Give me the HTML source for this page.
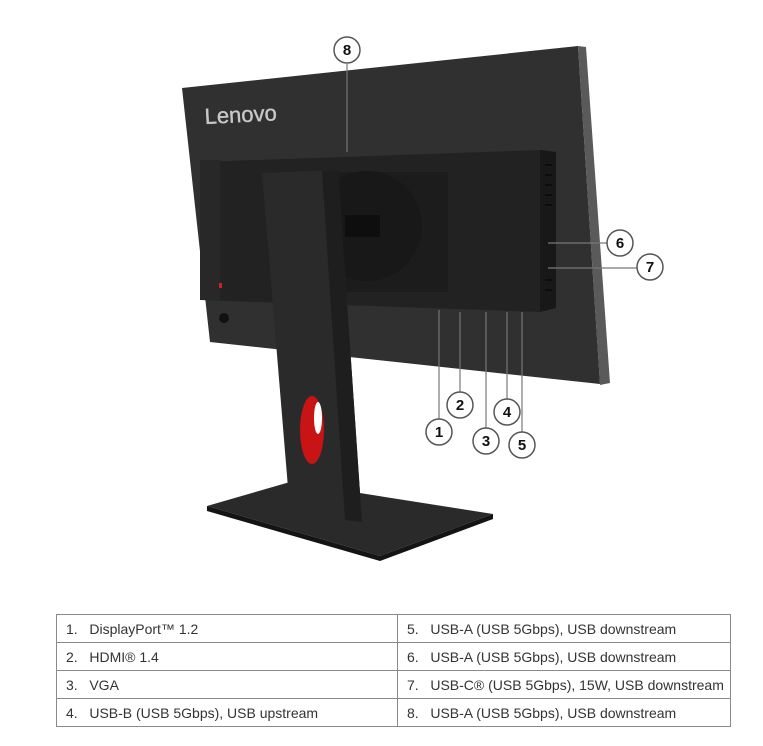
<!DOCTYPE html>
<html><head><meta charset="utf-8"><style>
body{margin:0;background:#fff;width:763px;height:746px;overflow:hidden;font-family:"Liberation Sans",sans-serif}
svg{position:absolute;left:0;top:0}
table{position:absolute;left:56px;top:614px;width:675px;border-collapse:collapse;font-size:14px;color:#333}
td{border:1px solid #8a8a8a;height:27px;padding:0 0 0 9px;vertical-align:middle}
td:first-child{width:331px}
</style></head><body>
<svg width="763" height="600" viewBox="0 0 763 600">
<!-- panel -->
<polygon points="182,88 578,46 600,384 210,342" fill="#303030"/>
<polygon points="578,46 586,47 610,383 600,385" fill="#5a5a5a"/>
<text x="205" y="124" font-family="Liberation Sans" font-size="22" fill="#c8c8c8" stroke="#c8c8c8" stroke-width="0.4" transform="rotate(-3 205 124)">Lenovo</text>
<!-- housing -->
<polygon points="200,162 540,150 556,152 556,308 540,312 200,300" fill="#222"/>
<polygon points="540,150 556,152 556,308 540,312" fill="#181818"/>
<rect x="200" y="160" width="20" height="140" fill="#282828"/>
<rect x="338" y="172" width="110" height="120" fill="#1c1c1c"/>
<circle cx="367" cy="226" r="55" fill="#181818"/>
<rect x="345" y="215" width="35" height="22" fill="#0e0e0e"/>
<circle cx="224" cy="318" r="5" fill="#111"/>
<rect x="219" y="283" width="3" height="5" fill="#c22"/>
<!-- vents -->
<g stroke="#000" stroke-width="1">
<line x1="545" y1="165" x2="552" y2="165"/><line x1="545" y1="175" x2="552" y2="175"/><line x1="545" y1="185" x2="552" y2="185"/><line x1="545" y1="195" x2="552" y2="195"/><line x1="545" y1="205" x2="552" y2="205"/><line x1="545" y1="280" x2="552" y2="280"/><line x1="545" y1="290" x2="552" y2="290"/>
</g>
<!-- base -->
<polygon points="207,506 290,482 493,514 380,556" fill="#2a2a2a"/>
<polygon points="207,506 380,556 493,514 493,519 380,561 207,511" fill="#141414"/>
<!-- neck -->
<polygon points="262,173 338,170 362,522 290,512" fill="#2a2a2a"/>
<polygon points="322,171 338,170 362,522 345,520" fill="#1e1e1e"/>
<ellipse cx="312" cy="430" rx="12" ry="34" fill="#c81414"/>
<ellipse cx="318" cy="418" rx="4" ry="16" fill="#fff"/>
<!-- callouts -->
<g stroke="#777" stroke-width="1.2" fill="none">
<line x1="347" y1="64" x2="347" y2="152"/>
<line x1="548" y1="243" x2="607" y2="243"/>
<line x1="548" y1="268" x2="637" y2="268"/>
<line x1="439" y1="310" x2="439" y2="419"/>
<line x1="460" y1="312" x2="460" y2="392"/>
<line x1="486" y1="312" x2="486" y2="428"/>
<line x1="507" y1="312" x2="507" y2="399"/>
<line x1="522" y1="312" x2="522" y2="432"/>
</g>
<g fill="#fff" stroke="#555" stroke-width="1.5">
<circle cx="347" cy="50" r="13"/><circle cx="620" cy="243" r="13"/><circle cx="650" cy="267" r="13"/>
<circle cx="439" cy="432" r="13"/><circle cx="460" cy="405" r="13"/><circle cx="486" cy="441" r="13"/>
<circle cx="507" cy="412" r="13"/><circle cx="522" cy="445" r="13"/>
</g>
<g font-family="Liberation Sans" font-weight="bold" font-size="15" fill="#111" text-anchor="middle">
<text x="347" y="55">8</text><text x="620" y="248">6</text><text x="650" y="272">7</text>
<text x="439" y="437">1</text><text x="460" y="410">2</text><text x="486" y="446">3</text>
<text x="507" y="417">4</text><text x="522" y="450">5</text>
</g>
</svg>
<table>
<tr><td>1.&nbsp;&nbsp; DisplayPort™ 1.2</td><td>5.&nbsp;&nbsp; USB-A (USB 5Gbps), USB downstream</td></tr>
<tr><td>2.&nbsp;&nbsp; HDMI® 1.4</td><td>6.&nbsp;&nbsp; USB-A (USB 5Gbps), USB downstream</td></tr>
<tr><td>3.&nbsp;&nbsp; VGA</td><td>7.&nbsp;&nbsp; USB-C® (USB 5Gbps), 15W, USB downstream</td></tr>
<tr><td>4.&nbsp;&nbsp; USB-B (USB 5Gbps), USB upstream</td><td>8.&nbsp;&nbsp; USB-A (USB 5Gbps), USB downstream</td></tr>
</table>
</body></html>
